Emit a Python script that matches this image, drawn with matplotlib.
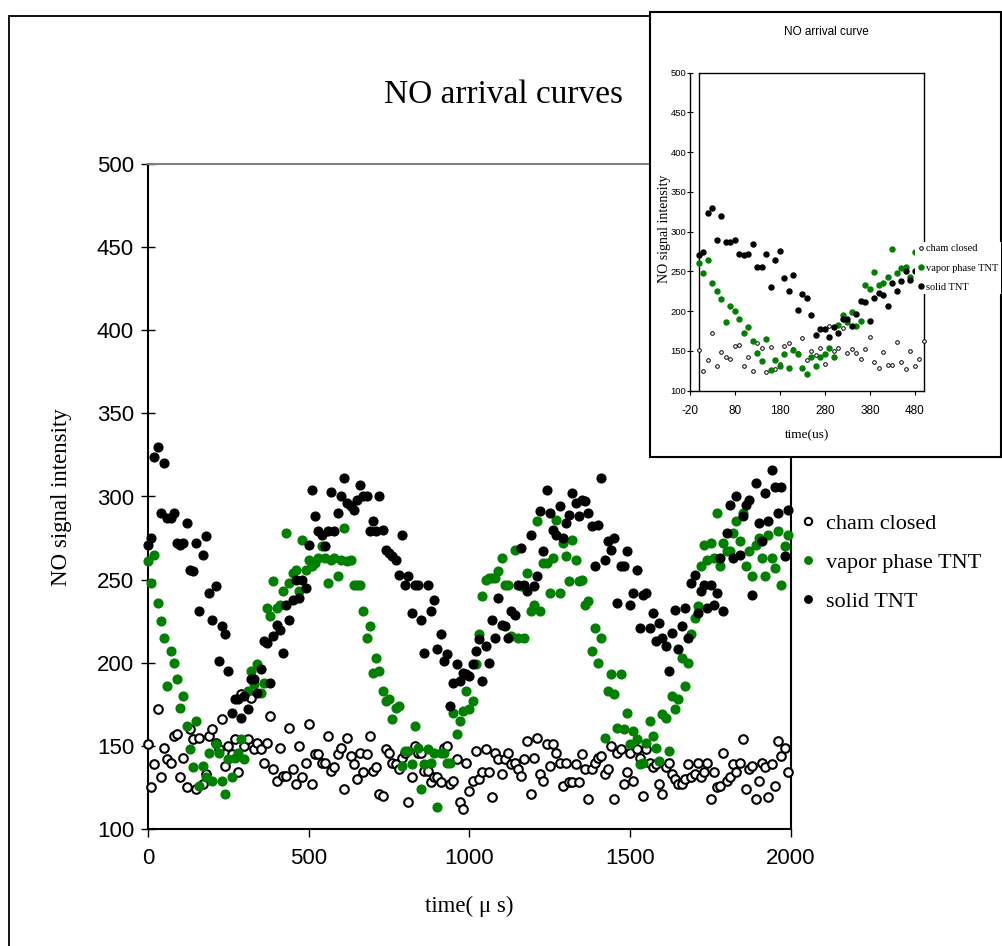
import numpy as np
import matplotlib
matplotlib.use("Agg")
import matplotlib.pyplot as plt
from matplotlib.patches import Rectangle
from matplotlib.transforms import Bbox, TransformedBbox
from matplotlib import font_manager

plt.rcParams["axes.unicode_minus"] = False

# ---------------- data (time step 10 us) ----------------
time_us = np.arange(0, 2000, 10)

cham_closed = [
    151, 125, 139, 172, 131, 149, 142, 140, 156, 157,
    131, 143, 125, 160, 154, 124, 155, 127, 133, 156,
    160, 152, 148, 166, 138, 150, 145, 154, 134, 181,
    150, 154, 179, 148, 152, 148, 140, 152, 168, 136,
    129, 149, 132, 132, 161, 136, 127, 150, 131, 140,
    163, 127, 145, 145, 140, 140, 156, 135, 137, 145,
    149, 124, 155, 144, 139, 130, 146, 134, 145, 156,
    135, 137, 121, 120, 148, 146, 140, 139, 136, 143,
    146, 116, 131, 150, 146, 146, 135, 135, 128, 131,
    131, 128, 149, 150, 127, 129, 142, 116, 112, 140,
    123, 129, 147, 130, 134, 148, 134, 119, 146, 142,
    133, 142, 146, 139, 140, 136, 132, 142, 153, 121,
    143, 155, 133, 129, 151, 138, 151, 146, 140, 126,
    140, 128, 128, 139, 128, 145, 136, 118, 136, 140,
    143, 144, 133, 136, 150, 118, 146, 148, 127, 134,
    146, 129, 148, 143, 120, 148, 140, 137, 139, 127,
    121, 137, 140, 133, 130, 127, 127, 130, 139, 131,
    133, 140, 131, 134, 140, 118, 134, 125, 126, 146,
    129, 131, 139, 134, 140, 154, 124, 136, 138, 118,
    129, 140, 137, 119, 139, 126, 153, 144, 149, 134,
]

vapor_phase = [
    261, 248, 265, 236, 225, 215, 186, 207, 200, 190,
    173, 180, 162, 148, 137, 165, 126, 138, 131, 146,
    129, 151, 146, 129, 121, 142, 131, 143, 146, 154,
    142, 183, 195, 187, 199, 182, 188, 233, 228, 249,
    233, 235, 243, 278, 248, 254, 256, 243, 274, 256,
    262, 258, 260, 263, 270, 263, 248, 262, 263, 252,
    262, 281, 261, 262, 247, 247, 247, 231, 215, 222,
    194, 203, 195, 183, 177, 178, 166, 173, 174, 138,
    147, 147, 139, 162, 149, 124, 139, 148, 140, 146,
    113, 146, 146, 140, 140, 170, 157, 165, 171, 183,
    172, 177, 199, 217, 240, 250, 251, 251, 251, 255,
    263, 247, 247, 216, 268, 215, 246, 215, 254, 231,
    235, 285, 231, 260, 260, 242, 263, 286, 242, 272,
    264, 249, 274, 262, 249, 250, 235, 237, 207, 221,
    200, 215, 155, 183, 193, 181, 161, 193, 160, 170,
    151, 159, 154, 139, 140, 152, 165, 156, 149, 141,
    169, 167, 147, 180, 172, 178, 203, 186, 200, 217,
    227, 234, 258, 271, 262, 272, 263, 290, 258, 272,
    267, 267, 278, 285, 273, 290, 258, 267, 252, 271,
    275, 263, 252, 277, 263, 257, 279, 247, 270, 277,
]

solid_tnt = [
    271, 275, 324, 330, 290, 320, 287, 287, 290, 272,
    271, 272, 284, 256, 255, 272, 231, 265, 276, 242,
    226, 246, 201, 222, 217, 195, 170, 178, 178, 167,
    180, 172, 190, 190, 182, 196, 213, 212, 188, 216,
    223, 220, 206, 235, 226, 238, 250, 239, 250, 245,
    271, 304, 288, 279, 277, 270, 279, 303, 279, 290,
    300, 311, 296, 294, 292, 298, 307, 300, 300, 279,
    285, 279, 300, 280, 268, 266, 264, 262, 253, 277,
    247, 252, 230, 247, 247, 226, 206, 247, 231, 238,
    208, 217, 201, 205, 174, 188, 199, 189, 194, 193,
    192, 199, 207, 214, 189, 210, 200, 226, 215, 239,
    223, 222, 215, 231, 229, 247, 269, 247, 243, 277,
    246, 252, 291, 267, 304, 290, 280, 277, 294, 275,
    284, 289, 302, 296, 288, 298, 297, 290, 282, 258,
    283, 311, 262, 273, 268, 275, 236, 258, 258, 267,
    235, 242, 256, 221, 241, 242, 221, 230, 213, 224,
    215, 210, 195, 218, 232, 208, 222, 233, 215, 248,
    253, 230, 243, 247, 233, 247, 235, 242, 263, 231,
    278, 295, 263, 300, 265, 288, 295, 298, 241, 308,
    284, 273, 302, 285, 316, 306, 290, 306, 264, 292,
]

series_labels = ["cham closed", "vapor phase TNT", "solid TNT"]
x_ticks = [0, 500, 1000, 1500, 2000]
y_ticks = [100, 150, 200, 250, 300, 350, 400, 450, 500]
inset_x_ticks = [-20, 80, 180, 280, 380, 480]
inset_points = 51  # first 500 us

GREEN = "#008000"
SANS = "Liberation Sans"
SERIF = "Liberation Serif"
installed = {f.name for f in font_manager.fontManager.ttflist}
NARROW = "Liberation Sans Narrow" if "Liberation Sans Narrow" in installed else SANS

W, H = 1003, 946
fig = plt.figure(figsize=(W / 100, H / 100), dpi=100)


def fx(px):
    return px / W


def fy(py):
    return 1 - py / H


# outer frame of the sheet
fig.patches.append(Rectangle((fx(9), fy(990)), fx(1100), fy(16) - fy(990),
                             transform=fig.transFigure, fill=False,
                             ec="black", lw=1.3, zorder=0))

# ---------------- main chart ----------------
ax = fig.add_axes([fx(148), fy(829), fx(791) - fx(148), fy(164) - fy(829)])
ax.set_zorder(0)
ax.set_xlim(0, 2000)
ax.set_ylim(100, 500)

h1, = ax.plot(time_us, cham_closed, "o", ls="none", ms=6.2, mfc="white",
              mec="black", mew=1.5, clip_on=False, zorder=3)
h2, = ax.plot(time_us, vapor_phase, "o", ls="none", ms=6.3, mfc=GREEN,
              mec=GREEN, clip_on=False, zorder=4)
h3, = ax.plot(time_us, solid_tnt, "o", ls="none", ms=6.3, mfc="black",
              mec="black", clip_on=False, zorder=5)

ax.set_xticks(x_ticks)
ax.set_yticks(y_ticks)
ax.tick_params(axis="y", direction="inout", length=10, width=1.0,
               labelsize=16, pad=5)
ax.tick_params(axis="x", direction="out", length=6, width=1.0,
               labelsize=16, pad=8)
for lab in ax.get_xticklabels() + ax.get_yticklabels():
    lab.set_fontfamily(SANS)
for side in ("left", "bottom", "right"):
    ax.spines[side].set_linewidth(1.5)
    ax.spines[side].set_color("black")
ax.spines["top"].set_color("#808080")
ax.spines["top"].set_linewidth(1.5)

fig.text(fx(503), fy(95), "NO arrival curves", fontsize=24,
         fontfamily=SERIF, ha="center", va="center")
fig.text(fx(469), fy(906), "time( \u03bc s)", fontsize=16.5,
         fontfamily=SERIF, ha="center", va="center")
fig.text(fx(62), fy(497), "NO signal intensity", fontsize=16.5,
         fontfamily=SERIF, ha="center", va="center", rotation=90)

leg = ax.legend([h1, h2, h3], series_labels, loc="center left",
                bbox_to_anchor=(fx(798), fy(563)),
                bbox_transform=fig.transFigure, frameon=False,
                prop={"family": SERIF, "size": 16}, labelspacing=0.83,
                handlelength=0.9, handletextpad=0.35, borderpad=0,
                borderaxespad=0, markerscale=0.85)

# ---------------- inset chart ----------------
fig.patches.append(Rectangle((fx(650), fy(457)), fx(1001) - fx(650),
                             fy(12) - fy(457), transform=fig.transFigure,
                             fc="white", ec="black", lw=1.5, zorder=1))

iax = fig.add_axes([fx(690), fy(390.7), fx(924) - fx(690),
                    fy(72.7) - fy(390.7)])
iax.set_zorder(2)
iax.set_xlim(-20, 500)
iax.set_ylim(100, 500)
t_in = time_us[:inset_points]
g1, = iax.plot(t_in, cham_closed[:inset_points], "o", ls="none", ms=2.6,
               mfc="white", mec="black", mew=0.7, clip_on=False, zorder=3)
g2, = iax.plot(t_in, vapor_phase[:inset_points], "o", ls="none", ms=3.6,
               mfc=GREEN, mec=GREEN, clip_on=False, zorder=4)
g3, = iax.plot(t_in, solid_tnt[:inset_points], "o", ls="none", ms=3.6,
               mfc="black", mec="black", clip_on=False, zorder=5)
iax.axvline(0, color="black", lw=1.0, zorder=2)
iax.spines["top"].set_bounds(0, 500)
for sp in iax.spines.values():
    sp.set_linewidth(1.0)
iax.set_xticks(inset_x_ticks)
iax.set_yticks(y_ticks)
iax.tick_params(axis="y", direction="inout", length=5, width=0.8,
                labelsize=6.8, pad=0)
iax.tick_params(axis="x", direction="out", length=3, width=0.8,
                labelsize=8.5, pad=7)
for lab in iax.get_xticklabels() + iax.get_yticklabels():
    lab.set_fontfamily(NARROW)

fig.text(fx(826), fy(32), "NO arrival curve", fontsize=8.5,
         fontfamily=SANS, ha="center", va="center")
fig.text(fx(807), fy(435), "time(us)", fontsize=9.5,
         fontfamily=SERIF, ha="center", va="center")
ylab = fig.text(fx(665), fy(229), "NO signal intensity", fontsize=10,
                fontfamily=SERIF, ha="center", va="center", rotation=90)
ylab.set_clip_box(TransformedBbox(Bbox([[0, 0], [1, fy(175)]]),
                                  fig.transFigure))
ylab.set_clip_on(True)

ileg = iax.legend([g1, g2, g3], series_labels, loc="center left",
                  bbox_to_anchor=(fx(915), fy(268)),
                  bbox_transform=fig.transFigure, frameon=True,
                  facecolor="white", edgecolor="none", framealpha=1,
                  fancybox=False, prop={"family": SERIF, "size": 7.5},
                  labelspacing=0.95, handlelength=0.6, handletextpad=0.2,
                  borderpad=0.25, borderaxespad=0)
ileg.set_zorder(10)

fig.savefig("out.png", dpi=100)
